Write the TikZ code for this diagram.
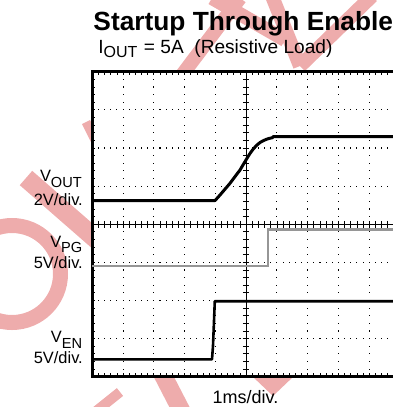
\documentclass[tikz,border=0pt]{standalone}
\usepackage{fontspec}
\setmainfont{Liberation Sans}
\definecolor{wm}{RGB}{238,172,172}
\definecolor{pgtrace}{RGB}{150,150,150}
\newcommand\lblfont{\fontsize{16.4bp}{16.4bp}\selectfont}
\newcommand\subfnt{\fontsize{14.6bp}{14.6bp}\selectfont}
\begin{document}
\begin{tikzpicture}[x=1bp,y=-1bp,
  wmband/.style={draw=wm,line width=14bp},
  frameline/.style={line width=2.7bp,line join=miter},
  centerline/.style={line width=0.8bp},
  tickline/.style={line width=0.7bp},
  blacktrace/.style={line width=3bp,line join=round},
  entrace/.style={line width=2.6bp,line join=round},
  pgline/.style={draw=pgtrace,line width=2.2bp},
  lbl/.style={inner sep=0pt,anchor=base east,font=\lblfont},
]
\useasboundingbox (0,0) rectangle (393,407);
\clip (0,0) rectangle (393,407);
% watermark
\draw[wmband,line width=15bp] (12,274) circle (48.5);
\draw[wmband,line width=19bp] (26,178) -- (200,330);
\draw[wmband,line width=9bp] (86,122) -- (120,190);
\draw[wmband] (240,-2) -- (182,75);
\draw[wmband] (212,-2) -- (285,40);
\draw[wmband] (272,-4) -- (300,66);
\draw[wmband] (300,66) -- (372,-4);
\draw[wmband,line width=18bp] (150,350) -- (182,412);
\draw[wmband,line width=10bp] (95,412) -- (120,392);
\fill[wm] (252,376) -- (294,376) -- (273,396) -- cycle;
% plot area
\fill[white] (92.3,71.7) rectangle (402,376.7);
% grid dots
\foreach \k in {1,2,3,4,6,7,8,9} {
  \foreach \j in {1,...,39} {
    \fill ({92.3+\k*30.77-0.55},{71.7+\j*7.625-0.55}) rectangle ++(1.1,1.1);
  }
}
\foreach \m in {1,2,3,5,6,7} {
  \foreach \i in {1,...,49} {
    \fill ({92.3+\i*6.154-0.55},{71.7+\m*38.125-0.55}) rectangle ++(1.1,1.1);
  }
}
% centre lines with ticks
\draw[centerline] (92.3,224.2) -- (402,224.2);
\draw[centerline] (246.15,71.7) -- (246.15,376.7);
\foreach \i in {0,...,50} {
  \draw[tickline] ({92.3+\i*6.154},220.9) -- ++(0,6.6);
  \draw[tickline] ({92.3+\i*6.154},376.7) -- ++(0,-3.6);
  \draw[tickline] ({92.3+\i*6.154},71.7) -- ++(0,2.8);
}
\foreach \j in {0,...,40} {
  \draw[tickline] (242.85,{71.7+\j*7.625}) -- ++(6.6,0);
  \draw[tickline] (92.3,{71.7+\j*7.625}) -- ++(2.6,0);
}
% frame
\draw[frameline] (402,71.7) -- (92.3,71.7) -- (92.3,376.7) -- (402,376.7);
% traces
\draw[pgline] (92.3,266) -- (268.3,266) -- (268.3,229.5) -- (402,229.5);
\draw[entrace] (92.3,359.3) -- (212,359.3) -- (213,346) -- (214.8,301.2) -- (402,301.2);
\draw[blacktrace] (92.3,200.6) -- (215,200.6) -- (220,195)
  -- (230,183.3) -- (240,170) -- (246.7,158.8)
  .. controls (251,151.5) and (255,146) .. (260,142.5)
  .. controls (264,140) and (268,138.5) .. (272.7,137.6)
  -- (273,136.6) -- (402,136.6);
% texts
\node[inner sep=0pt,anchor=base west,font=\bfseries\fontsize{26.3bp}{26.3bp}\selectfont] (title) at (93.3,30) {Startup Through Enable};
\node[inner sep=0pt,anchor=base west,font=\fontsize{19.1bp}{19.1bp}\selectfont] (sub) at (98.2,53.3) {I\raisebox{-4.4bp}{\fontsize{16bp}{16bp}\selectfont OUT}\hspace{6.5bp}= 5A\ \ (Resistive Load)};
\node[lbl] (vout) at (82,181.7) {V\raisebox{-5.6bp}{\subfnt OUT}};
\node[lbl] (voutdiv) at (83,205) {2V/div.};
\node[lbl] (vpg) at (82.5,247) {V\raisebox{-5.6bp}{\subfnt PG}};
\node[lbl] (vpgdiv) at (83,268.3) {5V/div.};
\node[lbl] (ven) at (82.3,342.5) {V\raisebox{-5.6bp}{\subfnt EN}};
\node[lbl] (vendiv) at (83,363.3) {5V/div.};
\node[inner sep=0pt,anchor=base,font=\fontsize{18bp}{18bp}\selectfont] (xdiv) at (245.5,403.3) {1ms/div.};
\end{tikzpicture}
\end{document}
